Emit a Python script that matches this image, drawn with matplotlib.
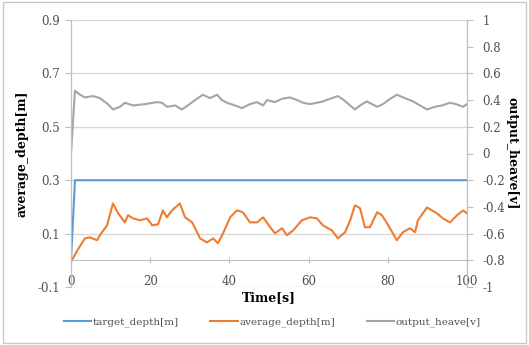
import matplotlib
matplotlib.use("Agg")
import matplotlib.pyplot as plt
from matplotlib.patches import Rectangle

# ---- data ----
target_t = [0, 1.0, 100]
target_depth = [0.0, 0.3, 0.3]

avg_t = [0.25, 1.5, 3.5, 4.8, 6.6, 7.3, 9.1, 10.6, 11.9, 13.6, 14.4, 15.7, 17.4, 19.2,
         20.5, 22.0, 23.2, 24.2, 25.5, 27.5, 28.8, 30.6, 32.6, 34.3, 35.9, 37.1, 38.4,
         40.2, 41.9, 43.4, 45.2, 47.0, 48.5, 50.3, 51.5, 53.3, 54.5, 56.1, 58.3, 60.4,
         62.1, 63.6, 65.9, 67.4, 69.2, 70.5, 71.7, 73.0, 74.2, 75.5, 77.3, 78.5, 79.8,
         82.3, 83.8, 85.6, 86.9, 87.6, 89.9, 92.4, 93.9, 95.7, 97.5, 99.0, 100]
average_depth = [0.0, 0.035, 0.082, 0.086, 0.075, 0.094, 0.131, 0.213, 0.176, 0.142,
                 0.169, 0.157, 0.150, 0.157, 0.131, 0.135, 0.187, 0.161, 0.187, 0.213,
                 0.161, 0.142, 0.082, 0.067, 0.082, 0.064, 0.101, 0.161, 0.187, 0.180,
                 0.142, 0.142, 0.161, 0.124, 0.101, 0.120, 0.094, 0.112, 0.150, 0.161,
                 0.157, 0.131, 0.112, 0.082, 0.105, 0.150, 0.206, 0.195, 0.124, 0.124,
                 0.180, 0.169, 0.139, 0.075, 0.105, 0.120, 0.105, 0.150, 0.198, 0.176,
                 0.157, 0.142, 0.169, 0.187, 0.176]

heave_t = [0, 1.0, 2.3, 3.5, 5.6, 7.3, 9.3, 10.6, 12.4, 13.6, 15.7, 18.7, 21.7, 23.0,
           24.2, 26.3, 28.0, 29.5, 31.3, 33.3, 35.1, 36.9, 38.1, 39.4, 41.4, 43.2, 45.2,
           47.0, 48.5, 49.5, 51.5, 53.3, 55.3, 57.1, 58.6, 60.4, 62.1, 63.6, 65.4, 67.4,
           68.9, 70.5, 71.7, 73.0, 74.7, 76.0, 77.3, 78.8, 80.6, 82.3, 84.3, 86.4, 88.1,
           89.9, 91.9, 93.7, 95.7, 97.2, 99.0, 100]
output_heave = [0.0, 0.47, 0.44, 0.42, 0.43, 0.415, 0.37, 0.33, 0.35, 0.38, 0.36, 0.37,
                0.385, 0.38, 0.35, 0.36, 0.33, 0.36, 0.40, 0.44, 0.415, 0.44, 0.40, 0.38,
                0.36, 0.34, 0.37, 0.385, 0.36, 0.40, 0.385, 0.41, 0.42, 0.40, 0.38, 0.37,
                0.38, 0.39, 0.41, 0.43, 0.40, 0.36, 0.33, 0.36, 0.39, 0.37, 0.35, 0.37,
                0.41, 0.44, 0.415, 0.39, 0.36, 0.33, 0.35, 0.36, 0.38, 0.37, 0.35, 0.37]

x_ticks = [0, 20, 40, 60, 80, 100]
left_ticks = [-0.1, 0.1, 0.3, 0.5, 0.7, 0.9]
left_labels = ["-0.1", "0.1", "0.3", "0.5", "0.7", "0.9"]
right_ticks = [-1, -0.8, -0.6, -0.4, -0.2, 0, 0.2, 0.4, 0.6, 0.8, 1]
right_labels = ["-1", "-0.8", "-0.6", "-0.4", "-0.2", "0", "0.2", "0.4", "0.6", "0.8", "1"]

# ---- style ----
plt.rcParams['font.family'] = ['DejaVu Serif']
BLUE = '#5B9BD5'
ORANGE = '#ED7D31'
GRAY = '#A5A5A5'
AXC = '#BFBFBF'
TXT = '#505050'

fig = plt.figure(figsize=(5.29, 3.45), dpi=100)
fig.patches.append(Rectangle((0.006, 0.006), 0.988, 0.988, transform=fig.transFigure,
                             fill=False, edgecolor='#C8C8C8', linewidth=1.0))

ax = fig.add_axes([71/529, 1-287/345, (467-71)/529, (287-20)/345])
ax2 = ax.twinx()

ax.set_xlim(0, 100)
ax.set_ylim(-0.1, 0.9)
ax2.set_ylim(-1, 1)

ax.set_yticks(left_ticks)
ax.set_yticklabels(left_labels)
ax2.set_yticks(right_ticks)
ax2.set_yticklabels(right_labels)
ax.set_xticks(x_ticks)

ax.grid(axis='y', color='#D9D9D9', linewidth=1.0)
ax.set_axisbelow(True)

l1, = ax.plot(target_t, target_depth, color=BLUE, lw=1.5, label='target_depth[m]')
l2, = ax.plot(avg_t, average_depth, color=ORANGE, lw=1.5, label='average_depth[m]')
l3, = ax2.plot(heave_t, output_heave, color=GRAY, lw=1.5, label='output_heave[v]')

for a in (ax, ax2):
    a.spines['top'].set_visible(False)
    a.spines['left'].set_color(AXC)
    a.spines['right'].set_color(AXC)
    a.spines['bottom'].set_visible(False)

ax.spines['bottom'].set_visible(True)
ax.spines['bottom'].set_position(('data', 0))
ax.spines['bottom'].set_color(AXC)

ax.tick_params(axis='x', direction='inout', length=5, color=AXC, labelsize=8.5,
               labelcolor=TXT, pad=8)
ax.tick_params(axis='y', direction='out', length=4, color=AXC, labelsize=8.5,
               labelcolor=TXT, pad=4)
ax2.tick_params(axis='y', direction='out', length=4, color=AXC, labelsize=8.5,
                labelcolor=TXT, pad=7)

ax.set_xlabel('Time[s]', fontsize=9, fontweight='bold', color='black', labelpad=2)
ax.set_ylabel('average_depth[m]', fontsize=9, fontweight='bold', color='black', labelpad=6)
ax2.set_ylabel('output_heave[v]', fontsize=9, fontweight='bold', color='black',
               rotation=270, labelpad=10)

fig.legend(handles=[l1, l2, l3], loc='center', bbox_to_anchor=(0.515, 1-322/345),
           ncol=3, frameon=False, fontsize=7.5, handlelength=2.6, columnspacing=3.0,
           handletextpad=0.2, labelcolor=TXT)

fig.savefig('out.png', dpi=100)
